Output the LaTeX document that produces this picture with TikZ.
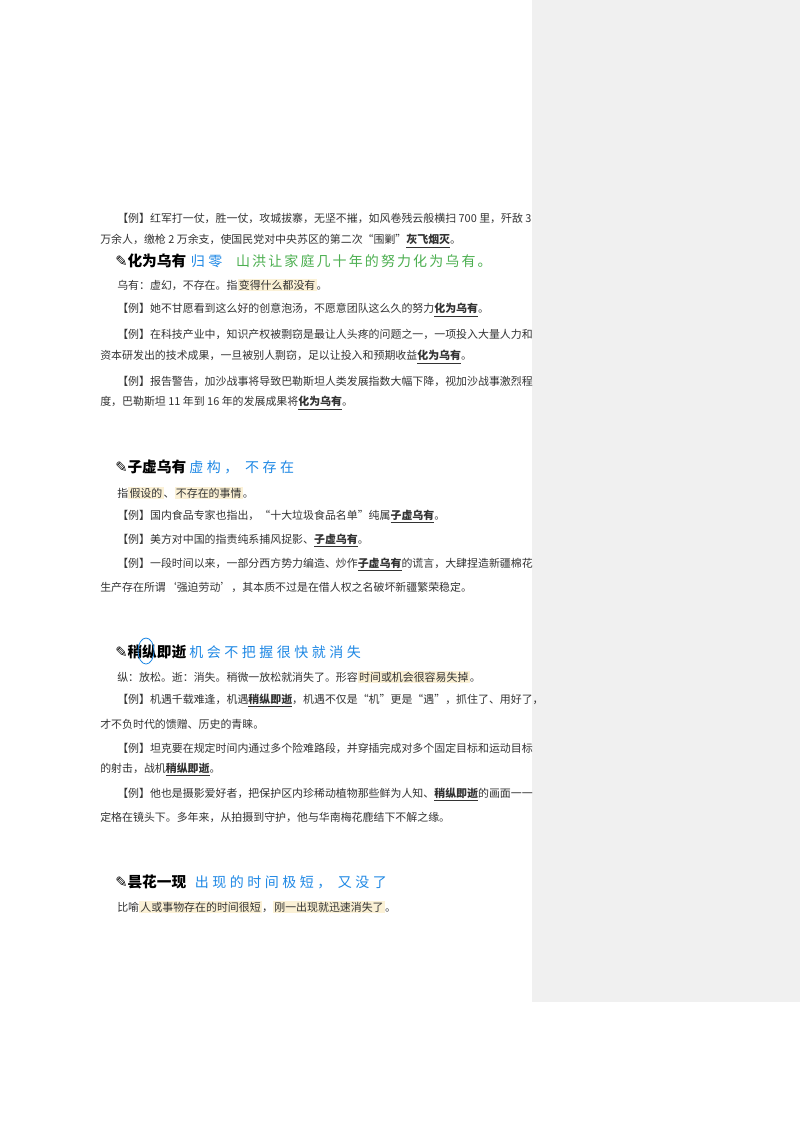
\documentclass[tikz,border=0pt]{standalone}
\usepackage{fontspec}
\setmainfont{Noto Sans CJK SC}
\newfontfamily\symb{DejaVu Sans}
\usetikzlibrary{positioning}
\definecolor{panel}{HTML}{F0F0F0}
\definecolor{hlcol}{HTML}{FBF1D6}
\definecolor{pen}{HTML}{1E88E5}
\definecolor{pengreen}{HTML}{4CAF50}
\definecolor{bodytext}{HTML}{333333}
\newcommand{\hl}[1]{{\setlength{\fboxsep}{1pt}\colorbox{hlcol}{#1}}}
\newcommand{\kw}[1]{\underline{\textbf{#1}}}
\newcommand{\pencil}{{\symb ✎}}
\begin{document}
\begin{tikzpicture}[x=0.75pt,y=-0.75pt,
line/.style={anchor=west,inner sep=0pt,text=bodytext,font=\fontsize{8.2}{10}\selectfont},
head/.style={anchor=west,inner sep=0pt,font=\fontsize{11}{13}\selectfont\bfseries},
note/.style={anchor=west,inner sep=0pt,text=pen,font=\fontsize{10.5}{13}\selectfont\addfontfeature{LetterSpace=25}},
]
\useasboundingbox (0,0) rectangle (800,1132);
\fill[white] (0,0) rectangle (800,1132);
\fill[panel] (532,0) rectangle (800,1002);

% first idiom (tail)
\node (a1) [line] at (117,218) {【例】红军打一仗，胜一仗，攻城拔寨，无坚不摧，如风卷残云般横扫 700 里，歼敌 3};
\node (a2) [line] at (100,241) {万余人，缴枪 2 万余支，使国民党对中央苏区的第二次“围剿”\kw{灰飞烟灭}。};

% 化为乌有
\node (h1) [head] at (115,261) {\pencil 化为乌有};
\node (n1) [note,right=3pt of h1] {归零};
\node (n1b) [note,text=pengreen,right=10pt of n1,font=\fontsize{10.5}{13}\selectfont\addfontfeature{LetterSpace=15}] {山洪让家庭几十年的努力化为乌有。};
\node (b1) [line] at (117,285) {乌有：虚幻，不存在。指\hl{变得什么都没有}。};
\node (b2) [line] at (117,310) {【例】她不甘愿看到这么好的创意泡汤，不愿意团队这么久的努力\kw{化为乌有}。};
\node (b3) [line] at (117,334) {【例】在科技产业中，知识产权被剽窃是最让人头疼的问题之一，一项投入大量人力和};
\node (b4) [line] at (100,357) {资本研发出的技术成果，一旦被别人剽窃，足以让投入和预期收益\kw{化为乌有}。};
\node (b5) [line] at (117,381) {【例】报告警告，加沙战事将导致巴勒斯坦人类发展指数大幅下降，视加沙战事激烈程};
\node (b6) [line] at (100,403) {度，巴勒斯坦 11 年到 16 年的发展成果将\kw{化为乌有}。};

% 子虚乌有
\node (h2) [head] at (115,467) {\pencil 子虚乌有};
\node (n2) [note,right=2pt of h2] {虚构， 不存在};
\node (c1) [line] at (117,493) {指\hl{假设的}、\hl{不存在的事情}。};
\node (c2) [line] at (117,517) {【例】国内食品专家也指出，“十大垃圾食品名单”纯属\kw{子虚乌有}。};
\node (c3) [line] at (117,541) {【例】美方对中国的指责纯系捕风捉影、\kw{子虚乌有}。};
\node (c4) [line] at (117,565) {【例】一段时间以来，一部分西方势力编造、炒作\kw{子虚乌有}的谎言，大肆捏造新疆棉花};
\node (c5) [line] at (100,587) {生产存在所谓‘强迫劳动’，其本质不过是在借人权之名破坏新疆繁荣稳定。};

% 稍纵即逝
\node (h3) [head] at (115,652) {\pencil 稍纵即逝};
\node (n3) [note,right=2pt of h3] {机会不把握很快就消失};
\draw[pen,semithick] (146,651) ellipse (8 and 13);
\node (d1) [line] at (117,677) {纵：放松。逝：消失。稍微一放松就消失了。形容\hl{时间或机会很容易失掉}。};
\node (d2) [line] at (117,701) {【例】机遇千载难逢，机遇\kw{稍纵即逝}，机遇不仅是“机”更是“遇”，抓住了、用好了，};
\node (d3) [line] at (100,724) {才不负时代的馈赠、历史的青睐。};
\node (d4) [line] at (117,748) {【例】坦克要在规定时间内通过多个险难路段，并穿插完成对多个固定目标和运动目标};
\node (d5) [line] at (100,770) {的射击，战机\kw{稍纵即逝}。};
\node (d6) [line] at (117,795) {【例】他也是摄影爱好者，把保护区内珍稀动植物那些鲜为人知、\kw{稍纵即逝}的画面一一};
\node (d7) [line] at (100,817) {定格在镜头下。多年来，从拍摄到守护，他与华南梅花鹿结下不解之缘。};

% 昙花一现
\node (h4) [head] at (115,882) {\pencil 昙花一现};
\node (n4) [note,right=6pt of h4] {出现的时间极短， 又没了};
\node (e1) [line] at (117,907) {比喻\hl{人或事物存在的时间很短}，\hl{刚一出现就迅速消失了}。};
\end{tikzpicture}
\end{document}
